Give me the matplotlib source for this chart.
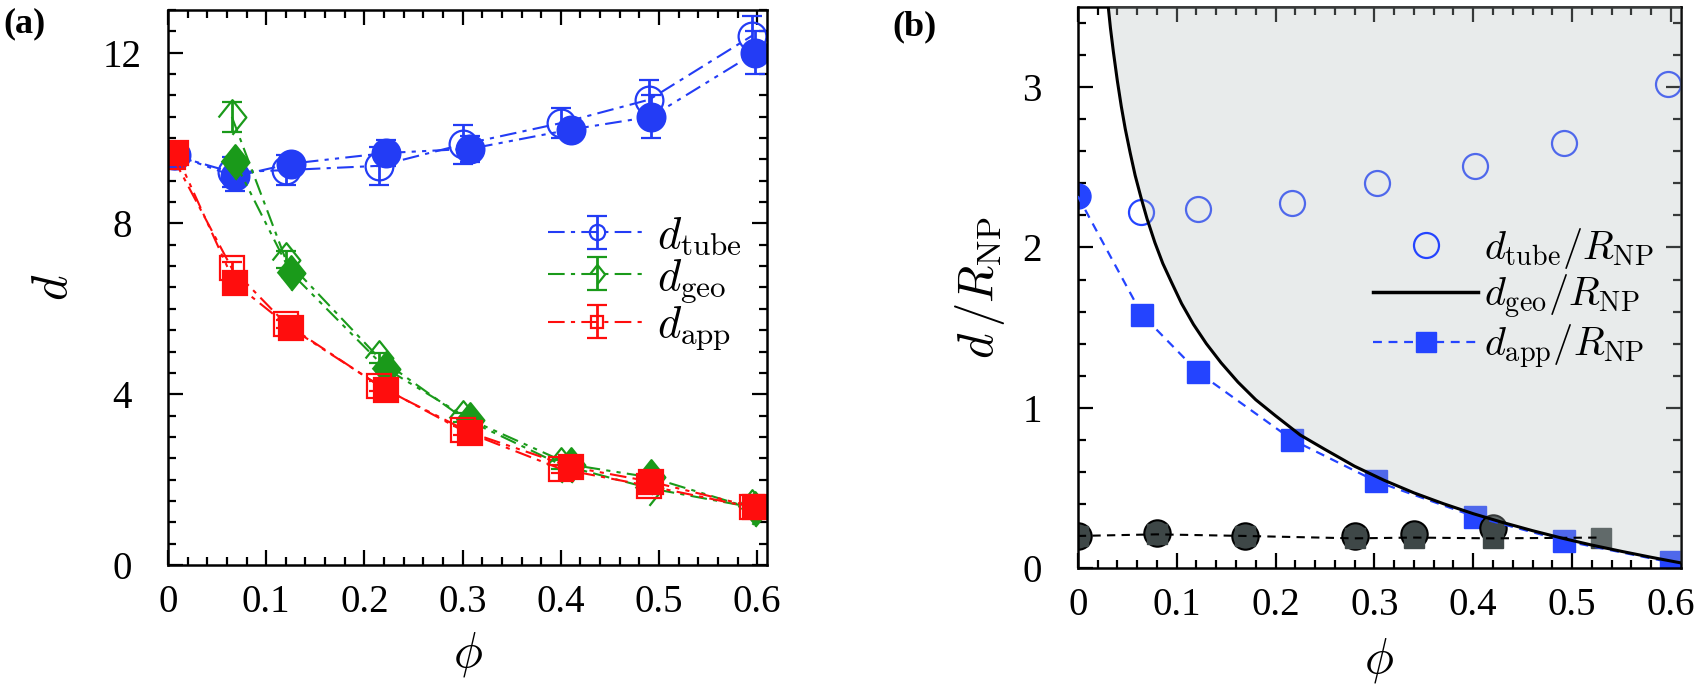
import matplotlib
matplotlib.use("Agg")
import matplotlib.pyplot as plt
from matplotlib.ticker import MultipleLocator, FuncFormatter
from matplotlib.lines import Line2D
from matplotlib.container import ErrorbarContainer
from matplotlib.legend_handler import HandlerErrorbar

plt.rcParams["font.family"] = "serif"
plt.rcParams["font.serif"] = ["Liberation Serif", "DejaVu Serif"]
plt.rcParams["mathtext.fontset"] = "cm"

# ------------------------------------------------------------------
# data, panel (a)
# ------------------------------------------------------------------
phi_open = [0.005, 0.065, 0.12, 0.215, 0.30, 0.40, 0.49, 0.595]
phi_fill = [0.008, 0.068, 0.125, 0.222, 0.308, 0.41, 0.492, 0.598]

tube_open = [9.6, 9.2, 9.25, 9.35, 9.85, 10.35, 10.9, 12.4]
tube_open_err = [0.15, 0.35, 0.35, 0.45, 0.45, 0.35, 0.45, 0.45]
tube_fill = [9.6, 9.1, 9.4, 9.65, 9.75, 10.2, 10.5, 12.0]
tube_fill_err = [0.1, 0.35, 0.15, 0.3, 0.3, 0.15, 0.5, 0.5]

# d_geo starts at the second phi
geo_open = [10.5, 7.15, 4.85, 3.45, 2.35, 1.8, 1.35]
geo_open_err = [0.35, 0.2, 0.12, 0.1, 0.1, 0.1, 0.1]
geo_fill = [9.45, 6.85, 4.6, 3.4, 2.35, 2.05, 1.3]
geo_fill_err = [0.1, 0.1, 0.1, 0.1, 0.15, 0.1, 0.15]

app_open = [9.55, 6.95, 5.65, 4.2, 3.15, 2.25, 1.85, 1.35]
app_open_err = [0.15, 0.15, 0.1, 0.12, 0.1, 0.1, 0.12, 0.1]
app_fill = [9.65, 6.6, 5.55, 4.1, 3.1, 2.3, 1.95, 1.35]
app_fill_err = [0.1, 0.1, 0.1, 0.1, 0.1, 0.1, 0.1, 0.1]

# ------------------------------------------------------------------
# data, panel (b)
# ------------------------------------------------------------------
phi_tube_b = [0.064, 0.122, 0.217, 0.303, 0.402, 0.492, 0.597]
tube_b = [2.22, 2.24, 2.28, 2.40, 2.51, 2.65, 3.02]

phi_app_b = [0.0, 0.065, 0.122, 0.217, 0.302, 0.402, 0.492, 0.60]
app_b = [2.32, 1.58, 1.22, 0.80, 0.54, 0.32, 0.17, 0.035]

# d_geo / R_NP curve
phi_geo_b = [0.030, 0.033, 0.036, 0.040, 0.044, 0.048, 0.053, 0.058, 0.064,
             0.070, 0.078, 0.086, 0.095, 0.105, 0.117, 0.130, 0.145, 0.162,
             0.180, 0.200, 0.225, 0.250, 0.280, 0.310, 0.340, 0.370, 0.400,
             0.430, 0.460, 0.490, 0.520, 0.550, 0.580, 0.610]
geo_b = [3.55, 3.37, 3.22, 3.04, 2.88, 2.74, 2.59, 2.45, 2.31,
         2.18, 2.03, 1.90, 1.78, 1.65, 1.52, 1.40, 1.28, 1.16,
         1.05, 0.95, 0.83, 0.74, 0.635, 0.547, 0.469, 0.401, 0.339,
         0.284, 0.233, 0.186, 0.143, 0.104, 0.067, 0.032]

phi_gray_c = [0.0, 0.08, 0.169, 0.28, 0.34, 0.42]
gray_c = [0.20, 0.22, 0.20, 0.20, 0.21, 0.25]
phi_gray_s = [0.0, 0.08, 0.169, 0.28, 0.34, 0.42, 0.529]
gray_s = [0.20, 0.21, 0.20, 0.185, 0.19, 0.185, 0.19]

BLUE = "#233cf5"
GREEN = "#1a9a1a"
RED = "#ff0d0d"
BLUE_B = "#2444ff"
GRAY = "#3e4747"

diamond = [(-0.8, 0), (0, 1), (0.8, 0), (0, -1)]

fig = plt.figure(figsize=(17, 6.9), dpi=100)
ax1 = fig.add_axes([0.0988, 0.1812, 0.3524, 0.8043])
ax2 = fig.add_axes([0.634, 0.1768, 0.3547, 0.813])

dd1 = (8, 3, 2, 3)
dd2 = (8, 3, 2, 3, 2, 3)


def eb(ax, x, y, e, color, marker, ms, filled, dashes, label=None):
    h = ax.errorbar(x, y, yerr=e, color=color, marker=marker, ms=ms,
                    mfc=color if filled else "none", mec=color, mew=1.6,
                    lw=1.5, elinewidth=2, capsize=7, capthick=2, label=label)
    h.lines[0].set_dashes(dashes)
    return h


eb(ax1, phi_open, tube_open, tube_open_err, BLUE, "o", 20, False, dd1, r"$d_{\rm tube}$")
eb(ax1, phi_fill, tube_fill, tube_fill_err, BLUE, "o", 20, True, dd2)
eb(ax1, phi_open[1:], geo_open, geo_open_err, GREEN, diamond, 25, False, dd1, r"$d_{\rm geo}$")
eb(ax1, phi_fill[1:], geo_fill, geo_fill_err, GREEN, diamond, 25, True, dd2)
eb(ax1, phi_open, app_open, app_open_err, RED, "s", 17, False, dd1, r"$d_{\rm app}$")
eb(ax1, phi_fill, app_fill, app_fill_err, RED, "s", 17, True, dd2)

ax1.set_xlim(0, 0.61)
ax1.set_ylim(0, 13)
ax1.xaxis.set_major_locator(MultipleLocator(0.1))
ax1.xaxis.set_minor_locator(MultipleLocator(0.02))
ax1.yaxis.set_major_locator(MultipleLocator(4))
ax1.yaxis.set_minor_locator(MultipleLocator(0.5))
ax1.set_xlabel(r"$\phi$", fontsize=35)
ax1.set_ylabel(r"$d$", fontsize=35)
ax1.xaxis.set_label_coords(0.5, -0.118)
ax1.yaxis.set_label_coords(-0.152, 0.5)
ax1.legend(loc="upper left", bbox_to_anchor=(0.635, 0.63), frameon=False,
           fontsize=32, markerscale=0.55, handlelength=2.2, handletextpad=0.25,
           labelspacing=0.0, borderpad=0, borderaxespad=0,
           handler_map={ErrorbarContainer: HandlerErrorbar(xerr_size=0.37)})

# ------------------------------------------------------------------
# panel (b)
# ------------------------------------------------------------------
ax2.fill_between(phi_geo_b, geo_b, 3.6, color="#b4bebe", alpha=0.3, lw=0, zorder=3)
ax2.plot(phi_geo_b, geo_b, color="black", lw=2.2, zorder=5)

ax2.plot(phi_app_b, app_b, color=BLUE_B, lw=1.6, dashes=(4, 3), zorder=4)
ax2.plot(phi_app_b[1:], app_b[1:], ls="none", marker="s", ms=16, color=BLUE_B, zorder=2)
ax2.plot(phi_app_b[:1], app_b[:1], ls="none", marker="o", ms=18, color=BLUE_B, zorder=2)

ax2.plot(phi_tube_b, tube_b, ls="none", marker="o", ms=18, mfc="none",
         mec=BLUE_B, mew=1.6, zorder=2)

ax2.plot(phi_gray_c, gray_c, ls="none", marker="o", ms=19, mfc=GRAY,
         mec="black", mew=1.5, zorder=2)
ax2.plot(phi_gray_s, gray_s, color="black", lw=1.5, dashes=(4, 3), zorder=4)
ax2.plot(phi_gray_s, gray_s, ls="none", marker="s", ms=15, color=GRAY, zorder=2)

ax2.set_xlim(0, 0.61)
ax2.set_ylim(0, 3.5)
ax2.xaxis.set_major_locator(MultipleLocator(0.1))
ax2.xaxis.set_minor_locator(MultipleLocator(0.02))
ax2.yaxis.set_major_locator(MultipleLocator(1))
ax2.yaxis.set_minor_locator(MultipleLocator(0.2))
ax2.set_xlabel(r"$\phi$", fontsize=35)
ax2.set_ylabel(r"$d\,/R_{\rm NP}$", fontsize=35)
ax2.xaxis.set_label_coords(0.5, -0.121)
ax2.yaxis.set_label_coords(-0.118, 0.5)

handles = [
    Line2D([], [], ls="none", marker="o", ms=18, mfc="none", mec=BLUE_B, mew=1.6),
    Line2D([], [], color="black", lw=2.5),
    Line2D([], [], color=BLUE_B, lw=1.6, dashes=(4, 3), marker="s", ms=15),
]
labels = [r"$d_{\rm tube}/R_{\rm NP}$", r"$d_{\rm geo}/R_{\rm NP}$", r"$d_{\rm app}/R_{\rm NP}$"]
ax2.legend(handles, labels, loc="upper left", bbox_to_anchor=(0.49, 0.61),
           frameon=False, fontsize=29, handlelength=2.6, handletextpad=0.15,
           labelspacing=0.05, borderpad=0, borderaxespad=0)

fmt = FuncFormatter(lambda v, p: f"{v:g}")
for ax in (ax1, ax2):
    ax.xaxis.set_major_formatter(fmt)
    ax.yaxis.set_major_formatter(fmt)
    ax.tick_params(which="both", direction="in", top=True, right=True, width=1.6)
    ax.tick_params(which="major", length=11, labelsize=28,
                   labelfontfamily="Liberation Serif")
    ax.tick_params(which="minor", length=6)
    ax.tick_params(axis="x", pad=14)
    ax.tick_params(axis="y", pad=33)
    for s in ax.spines.values():
        s.set_linewidth(1.8)
    plt.setp(ax.get_yticklabels(), ha="center")

fig.text(0.002, 0.99, "(a)", fontsize=26, fontweight="bold", va="top")
fig.text(0.525, 0.985, "(b)", fontsize=26, fontweight="bold", va="top")

fig.savefig("out.png", dpi=100)
